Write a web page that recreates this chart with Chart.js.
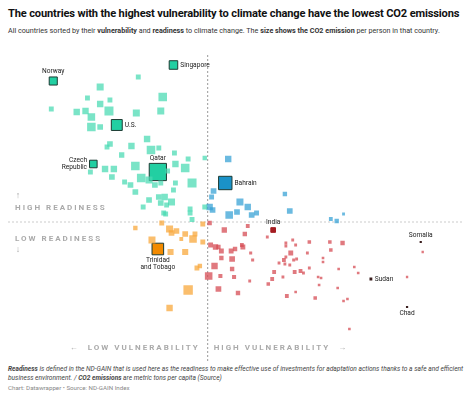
<!DOCTYPE html>
<html><head><meta charset="utf-8">
<script src="https://cdn.jsdelivr.net/npm/chart.js@4"></script>
<style>
body{margin:0;width:474px;height:402px;font-family:Roboto,sans-serif;background:#fff;position:relative;overflow:hidden}
#t{position:absolute;left:8px;top:7px;font-size:11.1px;font-weight:700;color:#111;white-space:nowrap;letter-spacing:-0.15px}
#s{position:absolute;left:8px;top:26px;font-size:7.2px;color:#333;white-space:nowrap}
#f{position:absolute;left:8px;top:365px;font-size:6.6px;color:#444;font-style:italic;line-height:9px;width:460px}
#c2{position:absolute;left:8px;top:384px;font-size:6.2px;color:#888}
canvas{position:absolute;left:0;top:0}
</style></head><body>
<div id="t">The countries with the highest vulnerability to climate change have the lowest CO2 emissions</div>
<div id="s">All countries sorted by their <b>vulnerability</b> and <b>readiness</b> to climate change. The <b>size shows the CO2 emission</b> per person in that country.</div>
<div id="f"><b>Readiness</b> is defined in the ND-GAIN that is used here as the readiness to make effective use of investments for adaptation actions thanks to a safe and efficient business environment. / <b>CO2 emissions</b> are metric tons per capita (Source)</div>
<div id="c2">Chart: Datawrapper • Source: ND-GAIN Index</div>
<canvas id="c" width="474" height="402"></canvas>
<script>
// [vulnerability, readiness, co2 per capita]
const tealX=[0.378,0.339,0.326,0.339,0.349,0.289,0.315,0.324,0.330,0.348,0.376,0.403,0.401,0.330,0.339,0.387,0.349,0.346,0.371,0.391,0.399,0.361,0.415,0.429,0.446,0.329,0.344,0.353,0.351,0.375,0.416,0.426,0.408,0.381,0.389,0.364,0.370,0.375,0.395,0.401,0.414,0.416,0.433,0.389,0.399,0.405,0.412,0.401,0.407,0.383,0.404,0.406,0.431,0.431,0.433,0.446];
const tealY=[0.706,0.686,0.664,0.652,0.660,0.642,0.636,0.638,0.626,0.638,0.634,0.666,0.638,0.606,0.606,0.582,0.572,0.566,0.568,0.560,0.564,0.550,0.554,0.542,0.544,0.516,0.522,0.522,0.506,0.528,0.532,0.524,0.518,0.504,0.500,0.496,0.490,0.476,0.490,0.494,0.480,0.494,0.494,0.460,0.466,0.466,0.456,0.454,0.450,0.446,0.434,0.432,0.442,0.434,0.421,0.446];
const tealC=[2,5,2,4,2,2,4,4,6,9,5,8,5,8,3,4,3,2,4,8,2,2.5,2,2,1.5,2,4,4,3,8,4,8,2,8,5,2,3,3,3,2,2,2,9,3,3,4,5,3,2,2,2,2,2,2,2,2];
const blueX=[0.470,0.455,0.453,0.482,0.490,0.451,0.454,0.479,0.471,0.494,0.499,0.528,0.533,0.575,0.581,0.588];
const blueY=[0.542,0.478,0.466,0.456,0.446,0.446,0.440,0.436,0.430,0.430,0.434,0.472,0.438,0.422,0.418,0.432];
const blueC=[4,3,2,5,4,4,3,3,6,3,2,1.5,3,1,1.5,0.4];
const orangeX=[0.375,0.402,0.410,0.412,0.417,0.422,0.426,0.434,0.436,0.444,0.444,0.392,0.411,0.426,0.438,0.441,0.429,0.410];
const orangeY=[0.404,0.414,0.402,0.394,0.398,0.382,0.392,0.382,0.392,0.412,0.376,0.380,0.356,0.356,0.324,0.328,0.280,0.244];
const orangeC=[1.5,2,5,3,3,1,3,6,2,2,2,5,3.5,3.5,2,1.5,10,4];
const redX=[0.451,0.466,0.490,0.487,0.510,0.529,0.529,0.536,0.539,0.553,0.574,0.587,0.452,0.457,0.460,0.463,0.473,0.477,0.484,0.485,0.493,0.495,0.463,0.474,0.456,0.534,0.529,0.527,0.537,0.540,0.522,0.528,0.533,0.551,0.575,0.567,0.567,0.474,0.450,0.462,0.476,0.492,0.517,0.515,0.526,0.538,0.544,0.547,0.553,0.562,0.565,0.583,0.599,0.603,0.563,0.582,0.511,0.460,0.480,0.530,0.539,0.559,0.588,0.592,0.594,0.669,0.653];
const redY=[0.414,0.400,0.408,0.392,0.386,0.374,0.368,0.380,0.370,0.376,0.376,0.374,0.370,0.366,0.366,0.358,0.358,0.362,0.370,0.366,0.354,0.340,0.344,0.342,0.328,0.354,0.346,0.340,0.340,0.342,0.334,0.332,0.330,0.354,0.360,0.344,0.336,0.322,0.308,0.308,0.306,0.298,0.316,0.302,0.306,0.316,0.318,0.314,0.324,0.306,0.304,0.322,0.326,0.314,0.290,0.284,0.292,0.282,0.274,0.268,0.276,0.264,0.258,0.262,0.202,0.356,0.306];
const redC=[1.5,2.5,1,1.5,0.4,0.4,0.4,0.4,0.4,0.8,0.8,1.5,2,2.5,1.5,2,2,1.5,1,2,0.5,0.5,1.5,3,4,2,0.4,1,0.5,0.4,0.4,0.4,0.4,0.4,0.8,0.3,0.3,1.5,6,1.2,1.2,0.4,1,1,0.4,1,1,0.4,0.4,0.3,0.3,0.3,0.3,0.3,0.3,0.3,0.8,3,1.5,1,0.3,0.8,0.3,0.3,0.3,0.2,0.2];
const labelNames=["Norway","Singapore","U.S.","Czech\nRepublic","Qatar","Bahrain","Trinidad\nand Tobago","India","Somalia","Sudan","Chad"];
const labelX=[0.291,0.414,0.356,0.332,0.398,0.467,0.398,0.516,0.667,0.616,0.653];
const labelY=[0.698,0.730,0.610,0.532,0.516,0.494,0.362,0.400,0.376,0.302,0.246];
const labelC=[7,8,14,6,38,22,16,1.8,0.15,0.4,0.15];
const labelQuad=["t","t","t","t","t","b","o","r","d","d","d"];
const labelPos=["above","right","right","left","above","right","below","above","above","right","below"];

const side=c=>1.2+2.6*Math.sqrt(c);
const rad=c=>side(c)/Math.SQRT2;
const pts=(X,Y,C)=>X.map((x,i)=>({x,y:Y[i],c:C[i]}));
const col={t:'rgba(70,218,178,0.72)',b:'rgba(50,160,212,0.72)',o:'rgba(248,168,60,0.75)',r:'rgba(214,76,84,0.75)'};
const lcol={t:'#22cfa2',b:'#1a92c8',o:'#f28a00',r:'#a51d22',d:'#3b1e1e'};
function ds(data,color){return{data,pointStyle:'rect',backgroundColor:color,borderWidth:0,pointRadius:data.map(p=>rad(p.c)),pointHoverRadius:data.map(p=>rad(p.c))};}
const lab=pts(labelX,labelY,labelC);
const guide={id:'guide',beforeDatasetsDraw(ch){const{ctx,scales:{x,y}}=ch;ctx.save();
 ctx.strokeStyle='#ccc';ctx.lineWidth=1;ctx.setLineDash([2,2]);const hy=y.getPixelForValue(0.416);
 ctx.beginPath();ctx.moveTo(8,hy);ctx.lineTo(464,hy);ctx.stroke();
 ctx.strokeStyle='#999';const vx=x.getPixelForValue(0.449);ctx.beginPath();ctx.moveTo(vx,55);ctx.lineTo(vx,362);ctx.stroke();
 ctx.setLineDash([]);ctx.fillStyle='#aaa';ctx.font='bold 8px Roboto';ctx.letterSpacing='2px';
 ctx.textBaseline='middle';ctx.textAlign='left';
 ctx.fillText('HIGH READINESS',15,208);ctx.fillText('LOW READINESS',15,239);
 ctx.textAlign='right';ctx.fillText('←  LOW VULNERABILITY',vx-8,348);ctx.textAlign='left';ctx.fillText('HIGH VULNERABILITY  →',vx+6,348);
 ctx.letterSpacing='0px';ctx.font='9px Roboto';ctx.textAlign='center';ctx.fillText('↑',18,196);ctx.fillText('↓',18,250);
 ctx.restore();},
 afterDatasetsDraw(ch){const{ctx,scales:{x,y}}=ch;ctx.save();ctx.font='6.6px Roboto';ctx.fillStyle='#222';
 lab.forEach((p,i)=>{const px=x.getPixelForValue(p.x),py=y.getPixelForValue(p.y),h=side(p.c)/2+1.5;
  const lines=labelNames[i].split('\n');const pos=labelPos[i];ctx.textBaseline='middle';
  lines.forEach((l,j)=>{let tx=px,ty;
   if(pos==='above'){ctx.textAlign='center';ty=py-h-4-(lines.length-1-j)*7.5;}
   else if(pos==='below'){ctx.textAlign='center';ty=py+h+4+j*7.5;}
   else if(pos==='right'){ctx.textAlign='left';tx=px+h+1;ty=py+(j-(lines.length-1)/2)*7.5;}
   else{ctx.textAlign='right';tx=px-h-1;ty=py+(j-(lines.length-1)/2)*7.5;}
   ctx.fillText(l,tx,ty);});});ctx.restore();}};
new Chart(document.getElementById('c'),{type:'scatter',
 data:{datasets:[ds(pts(tealX,tealY,tealC),col.t),ds(pts(blueX,blueY,blueC),col.b),
  ds(pts(orangeX,orangeY,orangeC),col.o),ds(pts(redX,redY,redC),col.r),
  {data:lab,pointStyle:'rect',backgroundColor:labelQuad.map(q=>lcol[q]),borderColor:labelQuad.map(q=>q==='d'||q==='r'?lcol[q]:'#1d3b33'),borderWidth:labelQuad.map(q=>q==='d'?0:1),pointRadius:lab.map(p=>rad(p.c)),pointHoverRadius:lab.map(p=>rad(p.c))}]},
 options:{responsive:false,animation:false,devicePixelRatio:1,
  layout:{padding:{left:8,right:8,top:55,bottom:47}},
  plugins:{legend:{display:false},tooltip:{enabled:false}},
  scales:{x:{display:false,min:0.25,max:0.708},y:{display:false,min:0.15,max:0.75}}},
 plugins:[guide]});
</script>
</body></html>
